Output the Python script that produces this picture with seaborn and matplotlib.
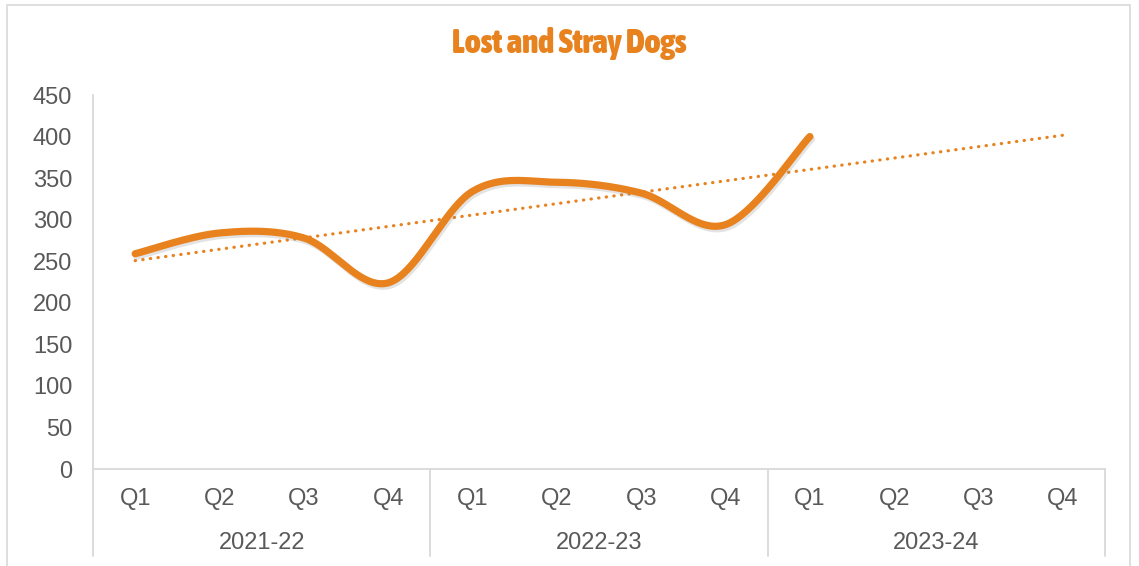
import numpy as np
import pandas as pd
import matplotlib
matplotlib.use("Agg")
import matplotlib.pyplot as plt
import matplotlib.patheffects as pe
from matplotlib.patches import Rectangle
from matplotlib import font_manager as fm
import seaborn as sns

# ---- data ----
years = ["2021-22", "2022-23", "2023-24"]
quarters = ["Q1", "Q2", "Q3", "Q4"]
dogs = [259, 284, 278, 224, 334, 345, 332, 294, 400]  # only 9 quarters reported
title = "Lost and Stray Dogs"

ORANGE = "#E8821E"
GREY_TXT = "#595959"
GREY_LINE = "#D9D9D9"

sns.set_theme(style="white")
plt.rcParams["font.family"] = ["Liberation Sans", "DejaVu Sans"]

# look for a bold condensed face for the title
def stretch_val(s):
    if isinstance(s, (int, float)):
        return s
    m = {"ultra-condensed": 100, "extra-condensed": 200, "condensed": 300,
         "semi-condensed": 400, "normal": 500}
    return m.get(s, 500)

def wval(w):
    if isinstance(w, (int, float)):
        return w
    return {"bold": 700, "heavy": 800, "black": 900, "extra bold": 800,
            "semibold": 600, "demibold": 600}.get(w, 400)

cands = []
for f in fm.fontManager.ttflist:
    cond = ("condensed" in f.fname.lower() or "narrow" in f.fname.lower()
            or stretch_val(f.stretch) < 500)
    if cond and wval(f.weight) >= 700:
        cands.append(f)
cands.sort(key=lambda f: (0 if "Condensed" in f.fname else 1, -wval(f.weight)))
title_font = fm.FontProperties(fname=cands[0].fname) if cands else None

n_cat = len(years) * len(quarters)
pos = np.arange(1, len(dogs) + 1, dtype=float)
vals = np.array(dogs, dtype=float)

# Excel-style smoothing (Bezier with Catmull-Rom control points)
def smooth(x, y, steps=40):
    P = np.column_stack([x, y])
    P = np.vstack([P[0], P, P[-1]])
    out = []
    for i in range(1, len(P) - 2):
        p0, p1, p2, p3 = P[i - 1], P[i], P[i + 1], P[i + 2]
        c1 = p1 + (p2 - p0) / 6.0
        c2 = p2 - (p3 - p1) / 6.0
        t = np.linspace(0, 1, steps)[:, None]
        seg = ((1 - t) ** 3) * p1 + 3 * ((1 - t) ** 2) * t * c1 + 3 * (1 - t) * t ** 2 * c2 + t ** 3 * p2
        out.append(seg if i == 1 else seg[1:])
    s = np.vstack(out)
    return s[:, 0], s[:, 1]

sx, sy = smooth(pos, vals)
df_smooth = pd.DataFrame({"x": sx, "y": sy})

# linear trend line, extended to the whole axis
coef = np.polyfit(pos, vals, 1)
tx = np.array([1.0, float(n_cat)])
df_trend = pd.DataFrame({"x": tx, "y": np.polyval(coef, tx)})

fig = plt.figure(figsize=(11.39, 5.66), dpi=100)
ax = fig.add_axes([93 / 1139, 1 - 469 / 566, (1105 - 93) / 1139, (469 - 95) / 566])

# outer chart border
fig.patches.append(Rectangle((7 / 1139, -0.05), (1130 - 7) / 1139, 1.05 - 5 / 566,
                             transform=fig.transFigure, fill=False,
                             edgecolor=GREY_LINE, linewidth=1.2, zorder=0))

sns.lineplot(data=df_trend, x="x", y="y", ax=ax, color=ORANGE, linewidth=2.3,
             linestyle=(0, (0.1, 2.3)), zorder=2)
ax.lines[-1].set_dash_capstyle("round")
sns.lineplot(data=df_smooth, x="x", y="y", ax=ax, color=ORANGE, linewidth=5.2,
             sort=False, zorder=3,
             path_effects=[pe.SimpleLineShadow(offset=(1.2, -1.8), shadow_color="#808080", alpha=0.22),
                           pe.Normal()])
ax.lines[-1].set_solid_capstyle("round")

ax.set_xlim(0.5, n_cat + 0.5)
ax.set_ylim(0, 450)
ax.set_yticks(np.arange(0, 451, 50))
ax.set_xlabel("")
ax.set_ylabel("")
ax.tick_params(axis="y", length=0, pad=15, labelsize=17, labelcolor=GREY_TXT)
ax.set_xticks(np.arange(1, n_cat + 1))
ax.set_xticklabels(quarters * len(years))
ax.tick_params(axis="x", length=0, pad=14, labelsize=17, labelcolor=GREY_TXT)

for side in ["top", "right"]:
    ax.spines[side].set_visible(False)
for side in ["left", "bottom"]:
    ax.spines[side].set_color(GREY_LINE)
    ax.spines[side].set_linewidth(1.3)

trans = matplotlib.transforms.blended_transform_factory(ax.transData, ax.transAxes)
for k in range(len(years) + 1):
    xb = 0.5 + k * len(quarters)
    ax.plot([xb, xb], [0, -0.233], transform=trans, color=GREY_LINE, lw=1.3, clip_on=False)
for k, yr in enumerate(years):
    xc = 0.5 + k * len(quarters) + len(quarters) / 2
    ax.text(xc, -0.197, yr, transform=trans, ha="center", va="center",
            fontsize=17, color=GREY_TXT)

if title_font is not None:
    title_font.set_size(24)
    fig.text(0.5, 1 - 44 / 566, title, ha="center", va="center",
             fontproperties=title_font, color=ORANGE)
else:
    fig.text(0.5, 1 - 44 / 566, title, ha="center", va="center", fontsize=17,
             fontweight="bold", color=ORANGE, family=["DejaVu Sans"])

fig.savefig("out.png", dpi=100, facecolor="white")
